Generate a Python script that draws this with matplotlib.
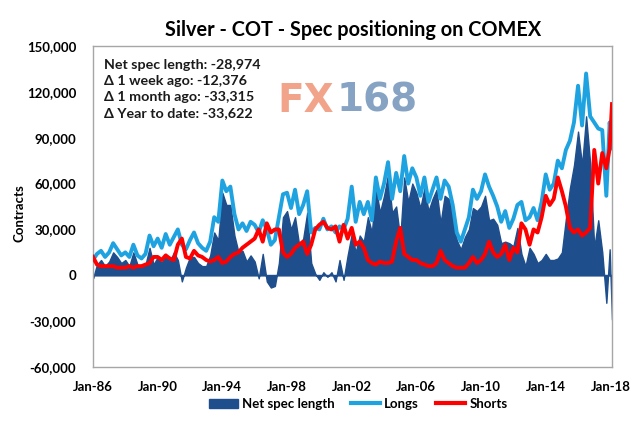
import matplotlib
matplotlib.use("Agg")
import matplotlib.pyplot as plt
import matplotlib.dates as mdates
from matplotlib.patches import Patch
from matplotlib.lines import Line2D
import numpy as np
import pandas as pd

plt.rcParams['font.family'] = ['Lato', 'DejaVu Sans']

# ---- data (thousands of contracts, quarterly readings + last weeks) ----
dates = list(pd.date_range('1986-01-01', '2017-10-01', freq='QS')) + \
        [pd.Timestamp('2017-12-15'), pd.Timestamp('2018-02-06')]

longs = [
    10, 14, 16, 12,   15, 21, 17, 13,   15, 12, 20, 13,   11, 14, 26, 19,
    24, 18, 27, 20,   25, 30, 20, 17,   23, 28, 21, 18,   16, 22, 38, 35,
    62, 55, 58, 40,   30, 34, 29, 35,   33, 28, 36, 30,   20, 23, 38, 53,
    54, 44, 56, 40,   46, 55, 28, 31,   30, 37, 30, 32,   28, 32, 30, 37,
    58, 35, 48, 40,   48, 36, 64, 50,   60, 74, 50, 67,   55, 78, 60, 70,
    64, 52, 64, 48,   56, 64, 50, 62,   58, 46, 28, 22,   30, 38, 56, 50,
    55, 66, 58, 52,   45, 35, 42, 31,   37, 46, 48, 36,   38, 44, 36, 48,
    66, 56, 60, 75,   70, 82, 88, 100,  124, 98, 132, 104, 100, 96, 95, 52,
    100, 83,
]

shorts = [
    12, 7, 6, 6,      6, 6, 5, 5,       5, 6, 5, 6,       6, 7, 8, 12,
    12, 10, 13, 11,   10, 20, 24, 12,   11, 16, 13, 12,   10, 9, 10, 12,
    8, 9, 12, 14,     15, 18, 20, 22,   24, 30, 22, 34,   28, 30, 30, 15,
    12, 14, 18, 20,   22, 14, 20, 30,   33, 35, 31, 30,   32, 22, 33, 24,
    31, 20, 22, 18,   10, 8, 7, 9,      8, 8, 9, 22,      31, 14, 12, 10,
    10, 8, 7, 6,      6, 8, 16, 10,     8, 6, 5, 5,       5, 8, 12, 8,
    10, 14, 22, 15,   12, 14, 20, 10,   18, 15, 34, 30,   20, 30, 28, 38,
    52, 46, 50, 64,   55, 45, 31, 28,   30, 26, 28, 31,   82, 60, 80, 70,
    83, 112,
]

net = [
    -2, 7, 10, 6,     9, 15, 12, 8,     10, 6, 15, 7,     5, 7, 18, 7,
    12, 8, 14, 9,     15, 10, -4, 5,    12, 12, 8, 6,     6, 13, 28, 23,
    54, 46, 46, 26,   15, 16, 9, 13,    9, -2, 14, -4,    -8, -7, 8, 38,
    42, 30, 38, 20,   24, 41, 8, 1,     -3, 2, -1, 2,     -4, 10, -3, 13,
    27, 15, 26, 22,   38, 28, 57, 41,   52, 66, 41, 45,   24, 64, 48, 60,
    54, 44, 57, 42,   50, 56, 34, 52,   50, 40, 23, 17,   25, 30, 44, 42,
    45, 52, 36, 37,   33, 21, 22, 21,   19, 31, 14, 6,    18, 14, 8, 10,
    14, 10, 10, 11,   15, 37, 57, 72,   94, 72, 104, 73,  18, 36, 15, -18,
    17, -29,
]

yticks = [-60000, -30000, 0, 30000, 60000, 90000, 120000, 150000]
xtick_years = [1986, 1990, 1994, 1998, 2002, 2006, 2010, 2014, 2018]
info_lines = ["Net spec length: -28,974",
              "\u0394 1 week ago: -12,376",
              "\u0394 1 month ago: -33,315",
              "\u0394 Year to date: -33,622"]

# ---- styling ----
c_net = '#1F4E8C'
c_long = '#1FA3E0'
c_short = '#FF0000'

W, H = 640, 428
fig = plt.figure(figsize=(W / 100, H / 100), dpi=100)
ax = fig.add_axes([93 / W, 1 - 367 / H, (612 - 93) / W, (367 - 46) / H])

x = mdates.date2num(dates)
L = np.array(longs) * 1000
S = np.array(shorts) * 1000
N = np.array(net) * 1000

ax.fill_between(x, 0, N, color=c_net, linewidth=1.0, edgecolor=c_net, zorder=2)
ax.plot(x, L, color=c_long, linewidth=2.8, zorder=3, solid_joinstyle='round')
ax.plot(x, S, color=c_short, linewidth=2.8, zorder=4, solid_joinstyle='round')
ax.axhline(0, color=c_net, linewidth=1.0, zorder=2)

ax.set_ylim(-60000, 150000)
ax.set_yticks(yticks)
ax.set_yticklabels([f"{v:,}" for v in yticks], fontsize=9.5, fontweight='bold')
ax.set_xlim(mdates.date2num(pd.Timestamp('1986-01-01')),
            mdates.date2num(pd.Timestamp('2018-02-06')))
xt = [mdates.date2num(pd.Timestamp(f'{y}-01-01')) for y in xtick_years]
ax.set_xticks(xt)
ax.set_xticklabels([f"Jan-{str(y)[2:]}" for y in xtick_years], fontsize=9.5,
                   fontweight='bold')
ax.tick_params(axis='both', length=0)
ax.tick_params(axis='y', pad=12)
ax.tick_params(axis='x', pad=10)
for s in ax.spines.values():
    s.set_color('#A6A6A6')
    s.set_linewidth(1.0)

fig.text(19 / W, 1 - 213 / H, 'Contracts', rotation=90, ha='center',
         va='center', fontsize=9.5, fontweight='bold')

fig.text(353 / W, 1 - 30 / H, 'Silver - COT - Spec positioning on COMEX',
         ha='center', va='center', fontsize=14.3, fontweight='bold')

for i, t in enumerate(info_lines):
    fig.text(104 / W, 1 - (65 + i * 16.0) / H, t, ha='left', va='center',
             fontsize=10.3, fontweight='bold', color='#1a1a1a')

# watermark
fig.text(277 / W, 1 - 112 / H, 'FX', ha='left', va='baseline', fontsize=28,
         fontweight='bold', color='#F2A48A', family='DejaVu Sans')
fig.text(337 / W, 1 - 112 / H, '168', ha='left', va='baseline', fontsize=28,
         fontweight='bold', color='#86A3C3', family='DejaVu Sans')

handles = [Patch(facecolor=c_net, edgecolor=c_net),
           Line2D([0], [0], color=c_long, linewidth=3),
           Line2D([0], [0], color=c_short, linewidth=3)]
fig.legend(handles, ['Net spec length', 'Longs', 'Shorts'], loc='center',
           bbox_to_anchor=(358 / W, 1 - 404 / H), ncol=3, frameon=False,
           prop={'weight': 'bold', 'size': 9.5}, handlelength=2.2,
           handletextpad=0.3, columnspacing=1.3, borderpad=0)

fig.savefig('out.png', dpi=100)
